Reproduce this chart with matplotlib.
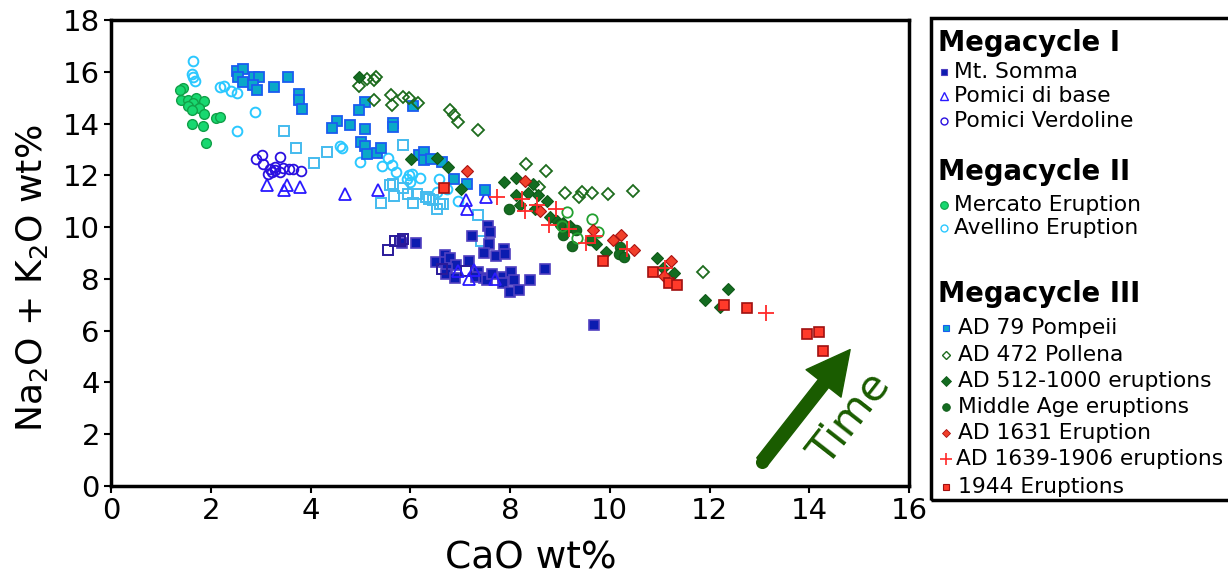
import matplotlib
matplotlib.use("Agg")
import matplotlib.pyplot as plt
from matplotlib.lines import Line2D
from matplotlib.patches import Rectangle

# --- data (CaO wt%, Na2O+K2O wt%) ---
somma_x = [5.83, 6.12, 7.56, 7.59, 7.23, 7.58, 7.48, 7.88, 7.72, 7.90, 6.70, 6.52, 6.70, 6.80, 6.92,
           7.18, 6.73, 6.72, 6.90, 7.36, 7.32, 7.47, 7.53, 7.63, 7.85, 7.85, 8.03, 8.08, 8.41, 7.99,
           8.18, 8.71, 9.69]
somma_y = [9.37, 9.37, 10.03, 9.83, 9.65, 9.35, 9.00, 9.15, 8.87, 8.96, 8.92, 8.64, 8.64, 8.79, 8.53,
           8.70, 8.38, 8.18, 8.03, 8.27, 8.06, 8.03, 7.96, 8.18, 8.09, 7.86, 8.27, 7.94, 7.95, 7.50,
           7.56, 8.38, 6.22]
somma_open_x = [5.56, 5.69, 5.79, 5.86, 6.63, 7.11]
somma_open_y = [9.13, 9.48, 9.48, 9.54, 8.38, 8.31]

base_x = [3.13, 3.47, 3.52, 3.79, 4.69, 5.36, 7.12, 7.13, 7.52, 6.96, 7.27, 7.18, 7.70]
base_y = [11.61, 11.42, 11.61, 11.55, 11.29, 11.42, 11.03, 10.71, 11.16, 8.31, 8.35, 7.99, 7.99]

verdoline_x = [2.90, 3.03, 3.39, 3.05, 3.19, 3.29, 3.22, 3.15, 3.39, 3.45, 3.56, 3.64, 3.81, 3.29]
verdoline_y = [12.65, 12.80, 12.71, 12.45, 12.26, 12.32, 12.13, 12.06, 12.13, 12.28, 12.23, 12.23, 12.15, 12.19]

mercato_x = [1.44, 1.38, 1.40, 1.55, 1.70, 1.86, 1.65, 1.55, 1.77, 1.63, 1.86, 2.10, 2.19, 1.62, 1.84, 1.91]
mercato_y = [15.39, 15.28, 14.91, 14.91, 15.00, 14.87, 14.78, 14.69, 14.61, 14.52, 14.36, 14.20, 14.26,
             14.00, 13.90, 13.23]

avellino_x = [1.65, 1.62, 1.65, 1.68, 2.19, 2.27, 2.40, 2.52, 2.89, 2.52, 4.60, 4.63, 4.99, 5.56, 5.43,
              5.63, 5.71, 5.93, 5.98, 6.03, 6.20, 6.00, 6.58, 6.53, 6.73, 6.96]
avellino_y = [16.41, 15.90, 15.81, 15.66, 15.40, 15.46, 15.27, 15.17, 14.46, 13.73, 13.12, 13.06, 12.52,
              12.68, 12.36, 12.39, 12.13, 11.84, 12.00, 12.06, 11.90, 11.75, 11.84, 11.35, 11.46, 10.99]
avellino_sq_x = [3.47, 3.70, 4.08, 4.34, 5.86, 5.41, 5.59, 5.65, 5.67, 5.85, 5.96, 6.05, 6.13, 6.32,
                 6.38, 6.46, 6.53, 6.60, 6.66, 7.36, 7.41]
avellino_sq_y = [13.72, 13.06, 12.49, 12.90, 13.16, 10.94, 11.61, 11.68, 11.20, 11.51, 11.29, 10.94, 11.29,
                 11.16, 11.09, 11.03, 10.71, 10.90, 10.90, 10.47, 9.48]

pompeii_x = [2.53, 2.64, 2.54, 2.65, 2.87, 2.97, 2.84, 2.93, 3.27, 3.54, 3.76, 3.76, 3.82, 5.09, 4.98,
             4.54, 4.44, 4.79, 5.09, 5.65, 5.66, 6.05, 5.01, 5.09, 5.13, 5.33, 5.41, 6.18, 6.28, 6.28,
             6.42, 6.64, 6.88, 7.14, 7.50]
pompeii_y = [16.03, 16.11, 15.78, 15.62, 15.78, 15.78, 15.49, 15.28, 15.40, 15.81, 15.14, 14.91, 14.58,
             14.85, 14.52, 14.11, 13.84, 13.96, 13.78, 14.04, 13.87, 14.69, 13.27, 13.14, 12.81, 12.88,
             13.07, 12.77, 12.90, 12.58, 12.62, 12.52, 11.87, 11.68, 11.44]

pollena_x = [4.97, 5.13, 5.27, 5.31, 5.28, 5.61, 5.64, 5.85, 5.98, 6.15, 6.80, 6.88, 6.96, 7.36, 8.32,
             8.72, 8.59, 9.10, 9.39, 9.44, 9.64, 9.97, 10.46, 11.86]
pollena_y = [15.45, 15.71, 15.68, 15.78, 14.91, 15.11, 14.71, 15.04, 15.00, 14.78, 14.52, 14.33, 14.07,
             13.77, 12.45, 12.17, 11.55, 11.33, 11.16, 11.35, 11.33, 11.29, 11.38, 8.25]

ad512_x = [4.97, 6.01, 6.53, 6.76, 7.01, 7.87, 8.12, 8.47, 8.36, 8.12, 8.57, 8.74, 8.20, 8.50, 8.80,
           8.94, 9.07, 9.20, 9.72, 9.92, 10.94, 11.07, 11.29, 12.38, 11.91, 12.21]
ad512_y = [15.79, 12.65, 12.67, 12.32, 11.46, 11.74, 11.91, 11.68, 11.31, 11.25, 11.25, 11.00, 10.84,
           10.71, 10.38, 10.25, 10.16, 10.03, 9.35, 9.03, 8.79, 8.41, 8.22, 7.60, 7.19, 6.93]

middle_x = [7.97, 9.07, 9.24, 9.19, 9.32, 10.21, 10.19, 10.29, 9.60, 9.01]
middle_y = [10.71, 9.70, 9.28, 9.99, 9.87, 9.22, 8.96, 8.83, 9.52, 10.12]
middle_open_x = [9.15, 9.04, 9.64, 9.77, 9.35]
middle_open_y = [10.58, 10.03, 10.32, 9.80, 9.57]

ad1631_x = [7.13, 8.31, 8.60, 9.67, 10.07, 10.23, 10.49, 11.23, 11.09]
ad1631_y = [12.17, 11.77, 10.61, 9.90, 9.52, 9.71, 9.13, 8.70, 8.10]

ad1639_x = [7.73, 8.25, 8.30, 8.54, 8.92, 8.79, 9.19, 9.52, 9.70, 10.34, 11.11, 13.13]
ad1639_y = [11.16, 11.07, 10.61, 10.86, 10.71, 10.09, 9.93, 9.39, 9.65, 9.16, 8.42, 6.70]

e1944_x = [6.68, 9.87, 10.86, 11.18, 11.34, 12.30, 12.75, 13.95, 14.20, 14.28]
e1944_y = [11.51, 8.70, 8.25, 7.84, 7.76, 6.98, 6.89, 5.86, 5.95, 5.21]

arrow_start = (13.05, 0.93)
arrow_end = (14.82, 5.27)

x_ticks = list(range(0, 17, 2))
y_ticks = list(range(0, 19, 2))

# --- styles ---
navy = '#0b1cb0'
green_dk = '#146c21'
red = '#ff3a2a'
arrow_c = '#1a5c00'

fig = plt.figure(figsize=(12.28, 5.77), dpi=100)
ax = fig.add_axes([111 / 1228, 91 / 577, 798 / 1228, 466 / 577])

def pts(x, y, **kw):
    ax.plot(x, y, linestyle='none', **kw)

pts(mercato_x, mercato_y, marker='o', ms=7, mfc='#18d870', mec='#10a048', mew=1)
pts(avellino_x, avellino_y, marker='o', ms=7, mfc='none', mec='#2bc8ff', mew=1.4)
pts(avellino_sq_x, avellino_sq_y, marker='s', ms=7.5, mfc='none', mec='#44bbee', mew=1.4)
pts(somma_x, somma_y, marker='s', ms=7.5, mfc=navy, mec='#5040c0', mew=1.2)
pts(somma_open_x, somma_open_y, marker='s', ms=7.5, mfc='none', mec='#2a1a9a', mew=1.4)
pts(base_x, base_y, marker='^', ms=8, mfc='none', mec='#2a1aff', mew=1.3)
pts(verdoline_x, verdoline_y, marker='o', ms=7, mfc='none', mec='#2a10e0', mew=1.3)
pts(pompeii_x, pompeii_y, marker='s', ms=7.5, mfc='#0aa8c8', mec='#1a5cf0', mew=1.3)
pts(pollena_x, pollena_y, marker='D', ms=6, mfc='none', mec='#1d6b1d', mew=1.3)
pts(ad512_x, ad512_y, marker='D', ms=6.5, mfc=green_dk, mec='#0f5a18', mew=0.8)
pts(middle_x, middle_y, marker='o', ms=7.5, mfc=green_dk, mec='#0f5a18', mew=0.8)
pts(middle_open_x, middle_open_y, marker='o', ms=7.5, mfc='none', mec='#22a030', mew=1.3)
pts(ad1631_x, ad1631_y, marker='D', ms=6, mfc='#f0402a', mec='#aa1111', mew=0.8)
pts(ad1639_x, ad1639_y, marker='+', ms=11, mec='#ff2a2a', mew=1.3)
pts(e1944_x, e1944_y, marker='s', ms=7.5, mfc=red, mec='#a01010', mew=1.2)

# time arrow
ax.plot([arrow_start[0]], [arrow_start[1]], marker='o', ms=9.4, color=arrow_c, mew=0)
ax.annotate('', xy=arrow_end, xytext=arrow_start,
            arrowprops=dict(arrowstyle='simple,head_length=3.1,head_width=3.2,tail_width=0.94',
                            mutation_scale=10, color=arrow_c, shrinkA=0, shrinkB=0))
ax.text(14.8, 2.6, 'Time', color=arrow_c, fontsize=31, rotation=52,
        ha='center', va='center', rotation_mode='anchor')

ax.set_xlim(0, 16)
ax.set_ylim(0, 18)
ax.set_xticks(x_ticks)
ax.set_yticks(y_ticks)
ax.tick_params(direction='out', length=5, width=1.5, labelsize=21, pad=3)
for s in ax.spines.values():
    s.set_linewidth(2.5)
ax.set_xlabel('CaO wt%', fontsize=27)
ax.set_ylabel('Na$_2$O + K$_2$O wt%', fontsize=26)
ax.xaxis.set_label_coords(0.526, -0.118)
ax.yaxis.set_label_coords(-0.076, 0.446)

# legend box
fig.add_artist(Rectangle((931 / 1228, 77 / 577), 0.4, 482 / 577, transform=fig.transFigure,
                         fill=False, lw=2.5, ec='black', clip_on=False))

def fx(px):
    return px / 1228

def fy(py):
    return 1 - py / 577

def header(py, txt):
    fig.text(fx(938), fy(py), txt, fontsize=19.8, fontweight='bold', va='center', ha='left')

def item(py, txt, mx, tx, **kw):
    fig.add_artist(Line2D([fx(mx)], [fy(py)], transform=fig.transFigure, linestyle='none', **kw))
    fig.text(fx(tx), fy(py), txt, fontsize=15.7, va='center', ha='left')

header(43, 'Megacycle I')
item(72, 'Mt. Somma', 944, 954, marker='s', ms=5, mfc=navy, mec='#5040c0', mew=0.8)
item(96, 'Pomici di base', 944, 954, marker='^', ms=5.5, mfc='none', mec='#2a1aff', mew=1)
item(121, 'Pomici Verdoline', 944, 954, marker='o', ms=5, mfc='none', mec='#2a10e0', mew=1)
header(172, 'Megacycle II')
item(205, 'Mercato Eruption', 944, 954, marker='o', ms=5.5, mfc='#18d870', mec='#10a048', mew=0.8)
item(228, 'Avellino Eruption', 944, 954, marker='o', ms=5, mfc='none', mec='#2bc8ff', mew=1)
header(294, 'Megacycle III')
item(328, 'AD 79 Pompeii', 946, 958, marker='s', ms=5, mfc='#0aa8c8', mec='#1a5cf0', mew=0.8)
item(355, 'AD 472 Pollena', 946, 958, marker='D', ms=4.5, mfc='none', mec='#1d6b1d', mew=1)
item(381, 'AD 512-1000 eruptions', 946, 958, marker='D', ms=5, mfc=green_dk, mec='#0f5a18', mew=0.6)
item(407, 'Middle Age eruptions', 946, 958, marker='o', ms=5.5, mfc=green_dk, mec='#0f5a18', mew=0.6)
item(433, 'AD 1631 Eruption', 946, 958, marker='D', ms=4.5, mfc='#f0402a', mec='#aa1111', mew=0.6)
item(459, 'AD 1639-1906 eruptions', 946, 956, marker='+', ms=8, mec='#ff2a2a', mew=1.2)
item(487, '1944 Eruptions', 946, 958, marker='s', ms=5, mfc=red, mec='#a01010', mew=0.8)

fig.savefig('out.png', dpi=100)
